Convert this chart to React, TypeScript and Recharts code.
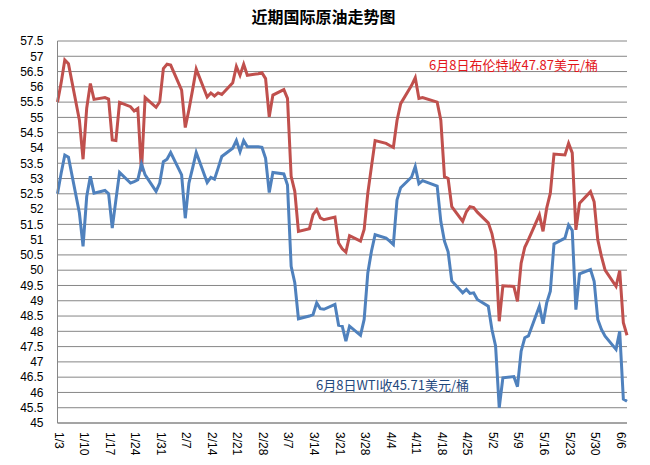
import React from 'react';
import { LineChart, Line, XAxis, YAxis, CartesianGrid } from 'recharts';

// trading days, 2017 (m/d)
const dates = [
  '1/3', '1/4', '1/5', '1/6',
  '1/9', '1/10', '1/11', '1/12', '1/13',
  '1/16', '1/17', '1/18', '1/19', '1/20',
  '1/23', '1/24', '1/25', '1/26', '1/27',
  '1/30', '1/31', '2/1', '2/2', '2/3',
  '2/6', '2/7', '2/8', '2/9', '2/10',
  '2/13', '2/14', '2/15', '2/16', '2/17',
  '2/20', '2/21', '2/22', '2/23', '2/24',
  '2/27', '2/28', '3/1', '3/2', '3/3',
  '3/6', '3/7', '3/8', '3/9', '3/10',
  '3/13', '3/14', '3/15', '3/16', '3/17',
  '3/20', '3/21', '3/22', '3/23', '3/24',
  '3/27', '3/28', '3/29', '3/30', '3/31',
  '4/3', '4/4', '4/5', '4/6', '4/7',
  '4/10', '4/11', '4/12', '4/13',
  '4/17', '4/18', '4/19', '4/20', '4/21',
  '4/24', '4/25', '4/26', '4/27', '4/28',
  '5/1', '5/2', '5/3', '5/4', '5/5',
  '5/8', '5/9', '5/10', '5/11', '5/12',
  '5/15', '5/16', '5/17', '5/18', '5/19',
  '5/22', '5/23', '5/24', '5/25', '5/26',
  '5/29', '5/30', '5/31', '6/1', '6/2',
  '6/5', '6/6', '6/7', '6/8',
];

// Brent, USD/bbl
const brent = [
  55.50, 56.13, 56.88, 56.76,
  54.91, 53.63, 55.30, 56.11, 55.59,
  55.65, 55.60, 54.26, 54.24, 55.49,
  55.35, 55.21, 55.29, 53.23, 55.65,
  55.33, 55.51, 56.60, 56.74, 56.71,
  55.89, 54.67, 55.25, 55.90, 56.58,
  55.67, 55.80, 55.70, 55.80, 55.75,
  56.13, 56.67, 56.38, 56.74, 56.38,
  56.43, 56.46, 56.27, 55.02, 55.73,
  55.91, 55.62, 53.07, 52.58, 51.27,
  51.36, 51.82, 51.98, 51.71, 51.65,
  51.74, 50.89, 50.70, 50.59, 51.13,
  50.95, 51.33, 52.52, 53.39, 54.24,
  54.15, 54.08, 54.02, 54.90, 55.45,
  56.05, 56.30, 55.62, 55.65,
  55.50, 54.91, 53.06, 53.00, 52.08,
  51.60, 51.91, 52.08, 52.05, 51.90,
  51.55, 51.20, 50.61, 48.33, 49.49,
  49.47, 48.98, 50.23, 50.75, 51.00,
  51.81, 51.27, 52.03, 52.52, 53.80,
  53.77, 54.15, 53.84, 51.32, 52.19,
  52.57, 52.24, 50.99, 50.45, 50.00,
  49.47, 49.99, 48.28, 47.87,
];

// WTI, USD/bbl
const wti = [
  52.50, 53.17, 53.77, 53.70,
  51.87, 50.78, 52.41, 53.07, 52.52,
  52.61, 52.50, 51.38, 52.30, 53.20,
  52.85, 52.90, 52.96, 53.48, 53.12,
  52.58, 52.85, 53.55, 53.63, 53.85,
  53.12, 51.70, 52.85, 53.34, 53.85,
  52.87, 53.04, 52.98, 53.34, 53.72,
  53.99, 54.24, 53.88, 54.24, 54.04,
  54.04, 54.02, 53.66, 52.54, 53.20,
  53.15, 52.79, 50.13, 49.59, 48.41,
  48.50, 48.55, 48.93, 48.74, 48.72,
  48.88, 48.20, 48.17, 47.68, 48.17,
  47.87, 48.39, 49.91, 50.62, 51.16,
  51.05, 50.95, 50.84, 52.30, 52.70,
  53.05, 53.39, 52.83, 52.93,
  52.75, 51.60, 50.95, 50.60, 49.65,
  49.26, 49.37, 49.24, 49.26, 49.04,
  48.82, 48.06, 47.52, 45.50, 46.48,
  46.52, 46.19, 47.35, 47.79, 47.85,
  48.82, 48.25, 48.93, 49.31, 50.86,
  51.05, 51.48, 51.30, 48.71, 49.88,
  50.02, 49.64, 48.39, 48.06, 47.84,
  47.41, 48.00, 45.78, 45.71,
];

const xTickLabels = [
  '1/3', '1/10', '1/17', '1/24', '1/31', '2/7', '2/14', '2/21', '2/28', '3/7', '3/14', '3/21',
  '3/28', '4/4', '4/11', '4/18', '4/25', '5/2', '5/9', '5/16', '5/23', '5/30', '6/6',
];

const yTicks = [
  45, 45.5, 46, 46.5, 47, 47.5, 48, 48.5, 49, 49.5, 50, 50.5, 51,
  51.5, 52, 52.5, 53, 53.5, 54, 54.5, 55, 55.5, 56, 56.5, 57, 57.5,
];

const FONT = '"Noto Sans CJK SC", "Noto Sans", sans-serif';
const TICK_FONT = '"Liberation Sans", Arial, sans-serif';

// days since 1/3 so the axis keeps calendar spacing (weekend gaps)
const dayOf = (s: string) => {
  const [m, d] = s.split('/').map(Number);
  return Math.round((Date.UTC(2017, m - 1, d) - Date.UTC(2017, 0, 3)) / 86400000);
};

const tickDays = xTickLabels.map(dayOf);
const lastDay = dayOf(dates[dates.length - 1]);

const data = dates.map((d, i) => ({ day: dayOf(d), brent: brent[i], wti: wti[i] }));

const DateTick = (props: any) => {
  const { x, y, payload } = props;
  const label = xTickLabels[tickDays.indexOf(payload.value)];
  const tx = x + 1;
  const ty = y + 9;
  return (
    <text
      x={tx}
      y={ty}
      transform={`rotate(90, ${tx}, ${ty})`}
      textAnchor="start"
      dominantBaseline="central"
      fontSize={12}
      fontFamily={TICK_FONT}
      fill="#000"
    >
      {label}
    </text>
  );
};

export default function App() {
  return (
    <div style={{ position: 'absolute', left: 0, top: 0, width: 650, height: 465, background: '#fff', fontFamily: FONT }}>
      <LineChart width={650} height={465} data={data} margin={{ top: 41, right: 23, bottom: 0, left: 0 }}>
        <CartesianGrid vertical={false} stroke="#868686" />
        <XAxis
          type="number"
          dataKey="day"
          domain={[0, lastDay]}
          ticks={tickDays}
          interval={0}
          tick={<DateTick />}
          tickLine={false}
          tickSize={0}
          tickMargin={0}
          height={42}
          stroke="#868686"
        />
        <YAxis
          domain={[45, 57.5]}
          ticks={yTicks}
          interval={0}
          width={57.5}
          tickLine={false}
          tickSize={0}
          tickMargin={14}
          stroke="#868686"
          tick={{ fontSize: 12, fill: '#000', fontFamily: TICK_FONT }}
        />
        <Line
          type="linear"
          dataKey="brent"
          stroke="#C0504D"
          strokeWidth={3}
          dot={false}
          isAnimationActive={false}
        />
        <Line
          type="linear"
          dataKey="wti"
          stroke="#4F81BD"
          strokeWidth={3}
          dot={false}
          isAnimationActive={false}
        />
      </LineChart>

      <div style={{ position: 'absolute', left: 0, top: 6, width: 647, textAlign: 'center', fontSize: 16, fontWeight: 'bold', lineHeight: '20px', color: '#000' }}>
        近期国际原油走势图
      </div>
      <div style={{ position: 'absolute', left: 429, top: 55, fontSize: 13, lineHeight: '20px', color: '#E3171B', whiteSpace: 'nowrap' }}>
        6月8日布伦特收47.87美元/桶
      </div>
      <div style={{ position: 'absolute', left: 316, top: 375, fontSize: 13, lineHeight: '20px', color: '#1F497D', whiteSpace: 'nowrap' }}>
        6月8日WTI收45.71美元/桶
      </div>
    </div>
  );
}
